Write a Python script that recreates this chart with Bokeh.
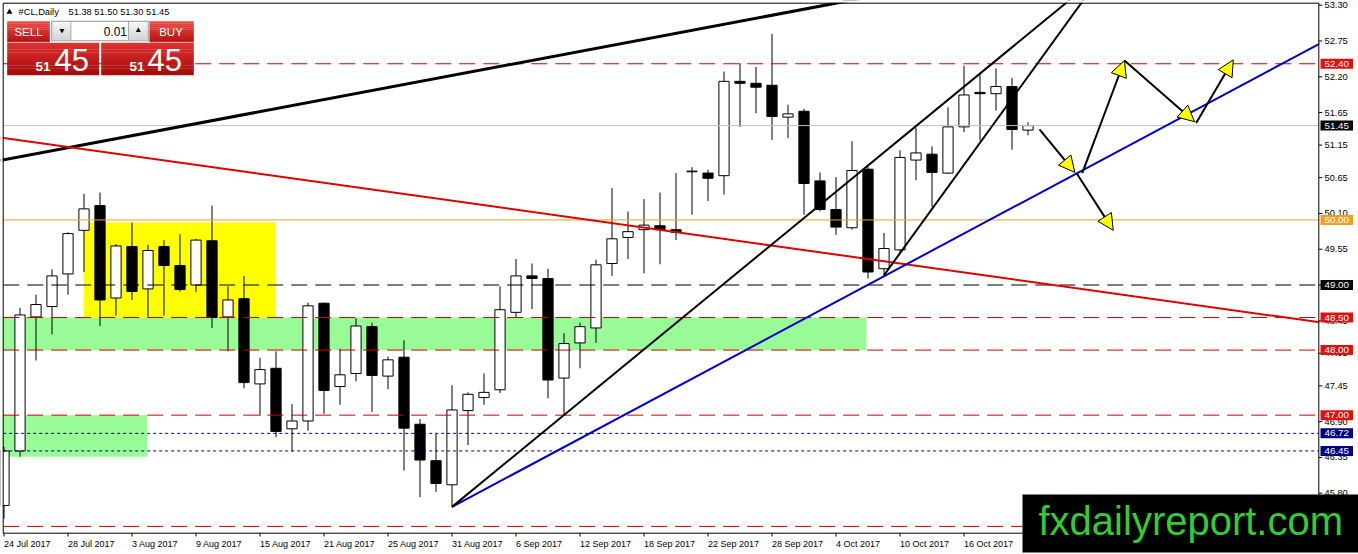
import numpy as np
import pandas as pd
from bokeh.plotting import figure
from bokeh.models import Range1d, Label, Arrow, NormalHead, ColumnDataSource
from bokeh.embed import file_html
from bokeh.resources import INLINE
from bokeh.core.properties import value

# ------------------------------------------------------------------ data
dates = pd.bdate_range("2017-07-24", "2017-10-20")   # 65 daily bars

opens = [45.61, 46.45, 48.51, 48.67, 49.17, 49.84, 50.22, 48.80, 49.59, 48.94,
         49.59, 49.30, 49.00, 49.68, 48.51, 48.79, 47.48, 47.72, 46.79, 46.91,
         48.72, 47.44, 47.64, 48.36, 47.60, 47.89, 46.86, 46.30, 45.93, 47.07,
         47.27, 47.39, 48.58, 49.14, 49.10, 47.57, 48.11, 48.34, 49.33, 49.73,
         49.85, 49.91, 49.85, 50.74, 50.72, 50.68, 52.13, 52.10, 52.07, 51.58,
         51.67, 50.60, 50.16, 49.88, 50.78, 49.25, 49.54, 50.92, 51.01, 50.72,
         51.43, 51.96, 51.94, 52.05, 51.38]
highs = [46.51, 48.65, 48.85, 49.24, 49.81, 50.40, 50.42, 49.63, 49.96, 49.62,
         49.69, 49.78, 49.71, 50.22, 48.98, 49.14, 47.88, 47.98, 47.17, 48.73,
         48.73, 48.02, 48.49, 48.42, 47.90, 48.15, 46.94, 46.71, 47.46, 47.35,
         47.64, 48.98, 49.40, 49.33, 49.25, 48.26, 48.42, 49.39, 50.49, 50.13,
         50.32, 50.42, 50.72, 50.81, 50.77, 52.28, 52.41, 52.35, 52.86, 51.77,
         51.71, 50.73, 50.66, 51.21, 50.82, 49.80, 51.07, 51.42, 51.13, 51.73,
         52.37, 52.26, 52.33, 52.18, 51.50]
lows = [45.41, 46.36, 47.84, 48.24, 48.85, 49.20, 48.37, 48.53, 48.77, 48.51,
        48.53, 48.90, 48.89, 48.34, 47.98, 47.41, 46.99, 46.66, 46.44, 46.76,
        47.02, 47.16, 47.52, 47.05, 47.40, 46.15, 45.74, 45.82, 45.59, 46.54,
        47.16, 47.34, 48.51, 48.63, 47.26, 47.00, 47.72, 48.11, 49.14, 49.40,
        49.18, 49.32, 49.69, 50.08, 50.29, 50.39, 51.43, 51.64, 51.23, 51.26,
        50.08, 50.13, 49.77, 49.85, 49.10, 49.15, 49.50, 50.61, 50.20, 50.71,
        51.35, 51.22, 51.68, 51.08, 51.30]
closes = [46.45, 48.54, 48.70, 49.14, 49.79, 50.17, 48.77, 49.60, 48.90, 49.53,
          49.30, 48.93, 49.69, 48.50, 48.77, 47.50, 47.70, 46.75, 46.91, 48.68,
          47.38, 47.62, 48.37, 47.61, 47.85, 46.80, 46.31, 45.95, 47.08, 47.32,
          47.35, 48.62, 49.14, 49.10, 47.54, 48.10, 48.36, 49.31, 49.71, 49.82,
          49.92, 49.85, 49.81, 50.75, 50.64, 52.13, 52.10, 52.04, 51.59, 51.63,
          50.56, 50.16, 49.89, 50.76, 49.20, 49.56, 50.96, 51.03, 50.73, 51.43,
          51.92, 51.94, 52.05, 51.39, 51.45]

y_ticks = [53.30, 52.75, 52.20, 51.65, 51.15, 50.65, 50.10, 49.55, 49.00,
           48.45, 47.95, 47.45, 46.90, 46.35, 45.80]
x_tick_idx = list(range(0, 64, 4))
x_tick_labels = [f"{d.day} {d:%b} {d.year}" for d in dates[x_tick_idx]]

red_levels = [52.40, 48.50, 48.00, 47.00, 45.29]
black_level = 49.00
navy_levels = [46.72, 46.45]
bid_level = 51.45
orange_level = 50.00

# trend lines: (bar indexes, prices)
resistance_line = ([-0.3, 55.0], [50.91, 53.47])
red_trend = ([-0.3, 83.0], [51.27, 48.40])
blue_trend = ([28, 83.0], [45.59, 52.81])
channel_upper = ([28, 67.0], [45.59, 53.46])
channel_lower = ([55, 68.0], [49.15, 53.56])

# forecast arrows: (bar start, price start, bar end, price end)
arrows = [(64.72, 51.39, 66.93, 50.73),
          (67.03, 50.72, 69.33, 49.84),
          (67.39, 50.72, 70.03, 52.45),
          (70.03, 52.45, 74.41, 51.51),
          (74.51, 51.49, 76.83, 52.46)]

yellow_zone = (5, 17, 48.50, 49.96)
green_zones = [(-1.0, 53.9, 48.00, 48.50), (-1.0, 8.95, 46.36, 47.00)]

RED_TAG, NAVY = "#e31010", "#000080"
ORANGE = "#f0a020"
tags = [(52.40, RED_TAG), (51.45, "black"), (50.00, ORANGE), (49.00, "black"),
        (48.50, RED_TAG), (48.00, RED_TAG), (47.00, RED_TAG),
        (46.72, NAVY), (46.45, NAVY)]

symbol_text = "#CL,Daily"
ohlc_text = "51.38 51.50 51.30 51.45"
watermark = "fxdailyreport.com"

# ------------------------------------------------------------------ scale helpers (pixel placement of decorations)
FONT = "Liberation Sans"


def xi(px):
    return (px - 3.5) / 16.0


def yp(py):
    return 53.3 - (py - 4.7) / 65.07


W, H = 1358, 554
CL, CT, CR, CB = 2.7, 2.7, 1318.3, 532.7      # chart box edges

p = figure(width=W, height=H, output_backend="svg", toolbar_location=None,
           x_range=Range1d(xi(0), xi(W)), y_range=Range1d(yp(H), yp(0)),
           x_axis_type=None, y_axis_type=None,
           min_border_left=0, min_border_right=0, min_border_top=0, min_border_bottom=0)
p.outline_line_color = None
p.background_fill_color = "white"
p.border_fill_color = "white"

# zones (background)
p.quad(left=[g[0] for g in green_zones], right=[g[1] for g in green_zones],
       bottom=[g[2] for g in green_zones], top=[g[3] for g in green_zones],
       fill_color="#98fb98", line_color=None)
p.quad(left=[yellow_zone[0]], right=[yellow_zone[1]], bottom=[yellow_zone[2]],
       top=[yellow_zone[3]], fill_color="#ffff00", line_color=None)

# candles
o = np.array(opens); h = np.array(highs); l = np.array(lows); c = np.array(closes)
up = c >= o
src = ColumnDataSource(dict(x=np.arange(len(o)), high=h, low=l,
                            top=np.maximum(o, c), bottom=np.minimum(o, c),
                            fill=["white" if u else "black" for u in up]))
p.segment(x0="x", y0="low", x1="x", y1="high", source=src, line_color="black", line_width=1)
p.vbar(x="x", width=0.64, top="top", bottom="bottom", fill_color="fill",
       line_color="black", line_width=1, source=src)

# horizontal levels
xl, xr = xi(CL), xi(CR)
n = len(red_levels)
p.segment(x0=[xl] * n, x1=[xr] * n, y0=red_levels, y1=red_levels,
          line_color="#cc0000", line_dash="16 8", line_width=1)
p.segment(x0=[xl], x1=[xr], y0=[black_level], y1=[black_level],
          line_color="black", line_dash="16 8", line_width=1)
p.segment(x0=[xl] * 2, x1=[xr] * 2, y0=navy_levels, y1=navy_levels,
          line_color=NAVY, line_dash="3 3", line_width=1)
p.segment(x0=[xl], x1=[xr], y0=[bid_level], y1=[bid_level], line_color="#c0c0c0", line_width=1)
p.segment(x0=[xl], x1=[xr], y0=[orange_level], y1=[orange_level], line_color=ORANGE, line_width=1)

# trend lines
p.line(*resistance_line, line_color="black", line_width=3)
p.line(*red_trend, line_color="#e00000", line_width=2)
p.line(*blue_trend, line_color="#0000cc", line_width=2)
p.line(*channel_upper, line_color="black", line_width=2)
p.line(*channel_lower, line_color="black", line_width=2)

# white margins outside the chart box (act as clipping)
p.quad(left=[xi(-20), xi(-20), xi(CR + 0.5), xi(-20)],
       right=[xi(CL - 0.5), xi(W + 20), xi(W + 20), xi(W + 20)],
       top=[yp(-20), yp(-20), yp(-20), yp(CB + 0.5)],
       bottom=[yp(H + 20), yp(CT - 0.5), yp(H + 20), yp(H + 20)],
       fill_color="white", line_color=None)
# chart frame
p.quad(left=[xi(CL)], right=[xi(CR)], top=[yp(CT)], bottom=[yp(CB)],
       fill_color=None, line_color="black", line_width=1)

# price scale (right)
nt = len(y_ticks)
p.segment(x0=[xi(CR)] * nt, x1=[xi(CR + 3.5)] * nt, y0=y_ticks, y1=y_ticks,
          line_color="black", line_width=1)
p.text(x=[xi(1324)] * nt, y=y_ticks, text=[f"{v:.2f}" for v in y_ticks],
       text_font=value(FONT), text_font_size=value("9.3px"), text_color="black",
       text_align="left", text_baseline="middle")

# time scale (bottom)
nx = len(x_tick_idx)
p.segment(x0=x_tick_idx, x1=x_tick_idx, y0=[yp(CB)] * nx, y1=[yp(CB + 3.3)] * nx,
          line_color="black", line_width=1)
p.text(x=x_tick_idx, y=[yp(538.5)] * nx, text=x_tick_labels,
       text_font=value(FONT), text_font_size=value("9px"), text_color="black",
       text_align="left", text_baseline="top")

# forecast arrows
for x0, y0, x1, y1 in arrows:
    p.add_layout(Arrow(x_start=x0, y_start=y0, x_end=x1, y_end=y1,
                       line_color="black", line_width=2,
                       end=NormalHead(size=16, fill_color="#ffff00",
                                      line_color="black", line_width=1)))

# price tags on the scale
for price, col in tags:
    p.add_layout(Label(x=xi(1320), y=price, text=f"{price:.2f}", text_font=FONT,
                       text_font_size="9.8px", text_color="white", text_align="left",
                       text_baseline="middle", background_fill_color=col,
                       padding=dict(left=4, right=4, top=2, bottom=2)))

# ------------------------------------------------------------------ trading panel (top-left)
qs = dict(left=[], right=[], top=[], bottom=[], color=[])


def box(l_, t_, r_, b_, color):
    qs["left"].append(xi(l_)); qs["right"].append(xi(r_))
    qs["top"].append(yp(t_)); qs["bottom"].append(yp(b_)); qs["color"].append(color)


def mix(c1, c2, f):
    a = [int(c1[i:i + 2], 16) for i in (1, 3, 5)]
    b = [int(c2[i:i + 2], 16) for i in (1, 3, 5)]
    return "#" + "".join(f"{int(round(a[k] + (b[k] - a[k]) * f)):02x}" for k in range(3))


def grad(l_, t_, r_, b_, ctop, cbot, n=10):
    hgt = (b_ - t_) / n
    for k in range(n):
        box(l_, t_ + k * hgt, r_, t_ + (k + 1) * hgt + 0.3, mix(ctop, cbot, k / (n - 1)))


grad(6.7, 20.7, 49.3, 41.5, "#ea4a42", "#b81414")       # SELL
grad(149.0, 20.7, 193.3, 41.5, "#ea4a42", "#b81414")    # BUY
grad(6.7, 42.2, 98.7, 74.5, "#dc3030", "#a80c0c")       # bid box
grad(100.7, 42.2, 193.3, 74.5, "#dc3030", "#a80c0c")    # ask box
box(50.7, 20.2, 148.3, 40.7, "#9a9a9a")                 # spinner border
grad(51.7, 21.2, 70.0, 39.7, "#f4f4f4", "#d6d6d6", 6)
box(70.8, 21.2, 127.6, 39.7, "white")
grad(128.4, 21.2, 147.3, 39.7, "#f4f4f4", "#d6d6d6", 6)
p.quad(left="left", right="right", top="top", bottom="bottom", fill_color="color",
       line_color=None, source=ColumnDataSource(qs))
p.segment(x0=[xi(10), xi(152)], y0=[yp(41.8), yp(41.8)], x1=[xi(46), xi(190)],
          y1=[yp(41.8), yp(41.8)], line_color="#f0a0a0", line_width=1)

p.scatter(x=[xi(9)], y=[yp(11.5)], marker="triangle", size=6, fill_color="black", line_color=None)
p.scatter(x=[xi(61.5)], y=[yp(30)], marker="inverted_triangle", size=5, fill_color="black", line_color=None)
p.scatter(x=[xi(137.8)], y=[yp(30)], marker="triangle", size=5, fill_color="black", line_color=None)


def lab(px, py, text, size, color="black", align="left", baseline="middle", style="normal"):
    p.add_layout(Label(x=xi(px), y=yp(py), text=text, text_font=FONT, text_font_size=size,
                       text_color=color, text_align=align, text_baseline=baseline,
                       text_font_style=style))


lab(18, 11.5, symbol_text, "9.3px")
lab(68, 11.5, ohlc_text, "9.3px")
lab(28, 31.3, "SELL", "11.5px", "white", "center")
lab(170.5, 31.3, "BUY", "11.5px", "white", "center")
lab(126.5, 31.3, "0.01", "12px", "black", "right")
bid_big = ohlc_text.split()[-1]
lab(35, 66.0, bid_big[:2], "13.5px", "white", "left", "middle", "bold")
lab(54, 59.0, bid_big[3:], "31px", "white", "left", "middle")
lab(129, 66.0, bid_big[:2], "13.5px", "white", "left", "middle", "bold")
lab(147, 59.0, bid_big[3:], "31px", "white", "left", "middle")

# watermark box
p.add_layout(Label(x=xi(1022), y=yp(494), text=watermark, text_font=FONT,
                   text_font_size="40px", text_color="#33cc33", text_align="left",
                   text_baseline="top", background_fill_color="black",
                   padding=dict(left=16, right=17, top=4, bottom=10)))

open("out.html", "w").write(file_html(p, INLINE))
